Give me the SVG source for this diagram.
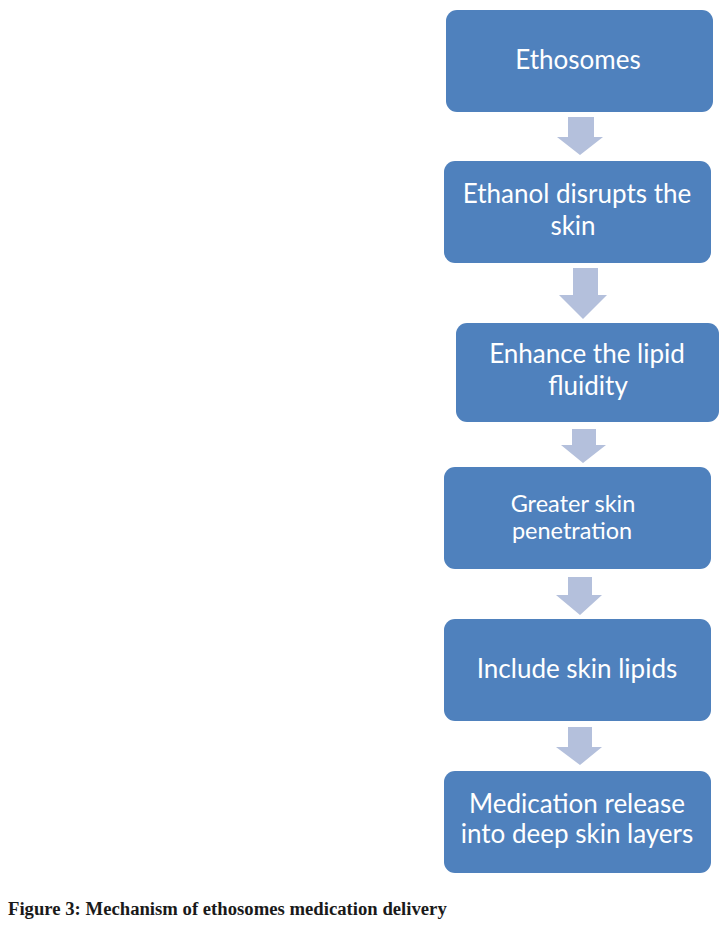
<svg xmlns="http://www.w3.org/2000/svg" width="723" height="926" viewBox="0 0 723 926">
<style>
.box{fill:#4F81BD;}
.lbl{fill:#FFFFFF;font-family:Lato,"Open Sans",sans-serif;font-size:26px;text-anchor:middle;}
.sm{font-size:23.5px;}
.arr{fill:#B4C0DC;}
.cap{font-family:"Liberation Serif","Times New Roman",serif;font-weight:bold;font-size:18.7px;fill:#1a1a1a;}
</style>
<rect width="723" height="926" fill="#FFFFFF"/>
<g id="connectors">
<polygon class="arr" points="568,117 594,117 594,137 603,137 580,155 557,137 568,137"/>
<polygon class="arr" points="573,268 598,268 598,295 607,295 583,319 559,295 573,295"/>
<polygon class="arr" points="572,429 596,429 596,445 606,445 583,463 561,445 572,445"/>
<polygon class="arr" points="568,577 592,577 592,595 602,595 580,615 556,595 568,595"/>
<polygon class="arr" points="568,727 592,727 592,747 602,747 580,765 556,747 568,747"/>
</g>
<g id="n1"><rect class="box" x="446" y="10" width="267" height="102" rx="11"/><text class="lbl" x="578" y="69">Ethosomes</text></g>
<g id="n2"><rect class="box" x="444" y="161" width="267" height="102" rx="11"/><text class="lbl" x="577" y="203">Ethanol disrupts the</text><text class="lbl" x="573" y="235">skin</text></g>
<g id="n3"><rect class="box" x="456" y="323" width="263" height="99" rx="11"/><text class="lbl" x="587" y="363">Enhance the lipid</text><text class="lbl" x="588" y="395">fluidity</text></g>
<g id="n4"><rect class="box" x="444" y="467" width="267" height="102" rx="11"/><text class="lbl sm" x="573" y="512">Greater skin</text><text class="lbl sm" x="572" y="539">penetration</text></g>
<g id="n5"><rect class="box" x="444" y="619" width="267" height="102" rx="11"/><text class="lbl" x="577" y="678">Include skin lipids</text></g>
<g id="n6"><rect class="box" x="444" y="771" width="267" height="102" rx="11"/><text class="lbl" x="577" y="813">Medication  release</text><text class="lbl" x="577" y="843">into deep skin layers</text></g>
<text class="cap" x="8" y="915">Figure 3: Mechanism of ethosomes medication delivery</text>
</svg>
